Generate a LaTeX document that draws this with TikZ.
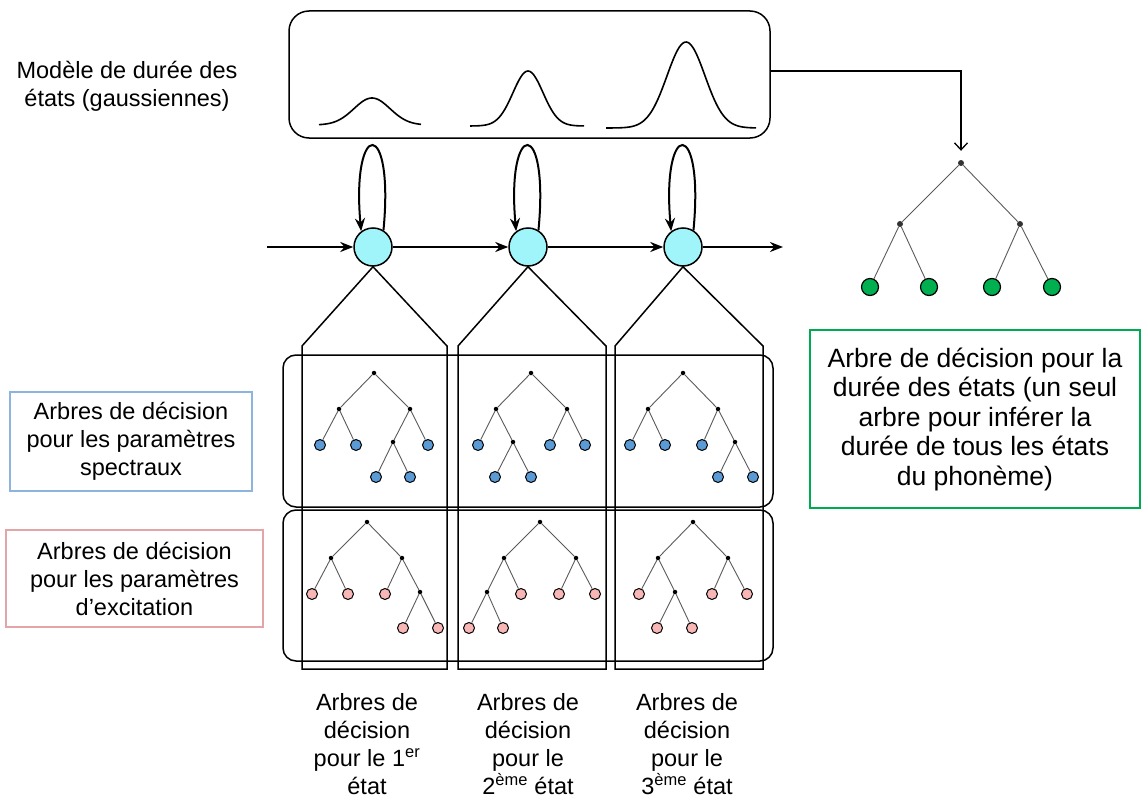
\documentclass[tikz,border=0pt]{standalone}
\usepackage{fontspec}
\setmainfont{Liberation Sans}
\usetikzlibrary{arrows.meta}
\definecolor{statefill}{RGB}{160,245,250}
\definecolor{leafblue}{RGB}{91,155,213}
\definecolor{leafpink}{RGB}{248,182,182}
\definecolor{leafgreen}{RGB}{0,176,80}
\definecolor{boxblue}{RGB}{140,180,220}
\definecolor{boxpink}{RGB}{228,165,168}
\definecolor{boxgreen}{RGB}{0,170,80}
\definecolor{edgegray}{RGB}{90,90,90}
\begin{document}
\begin{tikzpicture}[x=1pt,y=-1pt,
  every node/.style={font=\fontsize{23.5}{28}\selectfont},
  state/.style={circle,draw,line width=1.5pt,fill=statefill,minimum size=38pt,inner sep=0pt},
  flow/.style={line width=2pt,-{Stealth[length=13pt,width=10pt]}},
  idot/.style={circle,fill=black,minimum size=4.5pt,inner sep=0pt},
  gdot/.style={circle,fill=black!80,minimum size=6pt,inner sep=0pt},
  bleaf/.style={circle,draw,line width=1pt,fill=leafblue,minimum size=11pt,inner sep=0pt},
  pleaf/.style={circle,draw,line width=1pt,fill=leafpink,minimum size=11pt,inner sep=0pt},
  gleaf/.style={circle,draw,line width=1.2pt,fill=leafgreen,minimum size=17pt,inner sep=0pt},
  edge/.style={draw=edgegray,line width=0.9pt},
  frame/.style={line width=1.5pt},
  label/.style={align=center}
]
\useasboundingbox (0,0) rectangle (1148,800);

% duration model box with gaussians
\draw[frame,rounded corners=20pt] (289,11) rectangle (770,138);
\node[inner sep=0pt,minimum size=0pt] (dm) at (770,71) {};
\draw[line width=1.6pt,smooth] plot[domain=319:421,samples=60] (\x,{125-27*exp(-((\x-372)/18)^2/2)});
\draw[line width=1.6pt,smooth] plot[domain=470:584,samples=60] (\x,{126-55*exp(-((\x-528)/15)^2/2)});
\draw[line width=1.6pt,smooth] plot[domain=606:756,samples=70] (\x,{128-86*exp(-((\x-686)/19)^2/2)});
\node[label] (dmlabel) at (127,86) {Modèle de durée des\\états (gaussiennes)};

% HMM states
\node[state] (c1) at (373,247) {};
\node[state] (c2) at (528,247) {};
\node[state] (c3) at (683,247) {};
\coordinate (in) at (267,247);
\coordinate (out) at (783,247);
\draw[flow] (in) -- (c1);
\draw[flow] (c1) -- (c2);
\draw[flow] (c2) -- (c3);
\draw[flow] (c3) -- (out);
\foreach \c in {c1,c2,c3}{
  \draw[flow] (\c.58) .. controls ([shift={(11,-114)}]\c.58) and ([shift={(-10,-112)}]\c.127) .. (\c.127);
}

% funnels from each state to its trees
\draw[frame] (c1.south) -- (302,346) -- (302,669) -- (447,669) -- (447,346) -- cycle;
\draw[frame] (c2.south) -- (458,346) -- (458,669) -- (606,669) -- (606,346) -- cycle;
\draw[frame] (c3.south) -- (615,346) -- (615,669) -- (763,669) -- (763,346) -- cycle;

% groups of trees
\draw[frame,rounded corners=13pt] (283,355) rectangle (773,507);
\draw[frame,rounded corners=13pt] (283,510) rectangle (773,661);

% spectral trees
\node[idot] (s1r) at (374,373) {};
\node[idot] (s1a) at (339,409) {};
\node[idot] (s1b) at (410,409) {};
\node[idot] (s1c) at (393,442) {};
\node[bleaf] (s1l1) at (320,445) {};
\node[bleaf] (s1l2) at (356,445) {};
\node[bleaf] (s1l3) at (428,445) {};
\node[bleaf] (s1l4) at (376,477) {};
\node[bleaf] (s1l5) at (410,477) {};
\draw[edge] (s1a) -- (s1r) -- (s1b);
\draw[edge] (s1l1) -- (s1a) -- (s1l2);
\draw[edge] (s1c) -- (s1b) -- (s1l3);
\draw[edge] (s1l4) -- (s1c) -- (s1l5);

\node[idot] (s2r) at (531,373) {};
\node[idot] (s2a) at (496,409) {};
\node[idot] (s2b) at (567,409) {};
\node[idot] (s2c) at (513,442) {};
\node[bleaf] (s2l1) at (478,445) {};
\node[bleaf] (s2l2) at (495,477) {};
\node[bleaf] (s2l3) at (531,477) {};
\node[bleaf] (s2l4) at (550,445) {};
\node[bleaf] (s2l5) at (585,445) {};
\draw[edge] (s2a) -- (s2r) -- (s2b);
\draw[edge] (s2l1) -- (s2a) -- (s2c);
\draw[edge] (s2l2) -- (s2c) -- (s2l3);
\draw[edge] (s2l4) -- (s2b) -- (s2l5);

\node[idot] (s3r) at (683,373) {};
\node[idot] (s3a) at (648,409) {};
\node[idot] (s3b) at (718,409) {};
\node[idot] (s3c) at (735,442) {};
\node[bleaf] (s3l1) at (630,445) {};
\node[bleaf] (s3l2) at (665,445) {};
\node[bleaf] (s3l3) at (702,445) {};
\node[bleaf] (s3l4) at (718,477) {};
\node[bleaf] (s3l5) at (753,477) {};
\draw[edge] (s3a) -- (s3r) -- (s3b);
\draw[edge] (s3l1) -- (s3a) -- (s3l2);
\draw[edge] (s3l3) -- (s3b) -- (s3c);
\draw[edge] (s3l4) -- (s3c) -- (s3l5);

% excitation trees
\node[idot] (e1r) at (367,522) {};
\node[idot] (e1a) at (331,558) {};
\node[idot] (e1b) at (402,558) {};
\node[idot] (e1c) at (420,592) {};
\node[pleaf] (e1l1) at (312,594) {};
\node[pleaf] (e1l2) at (348,594) {};
\node[pleaf] (e1l3) at (385,594) {};
\node[pleaf] (e1l4) at (403,628) {};
\node[pleaf] (e1l5) at (438,628) {};
\draw[edge] (e1a) -- (e1r) -- (e1b);
\draw[edge] (e1l1) -- (e1a) -- (e1l2);
\draw[edge] (e1l3) -- (e1b) -- (e1c);
\draw[edge] (e1l4) -- (e1c) -- (e1l5);

\node[idot] (e2r) at (540,522) {};
\node[idot] (e2a) at (504,558) {};
\node[idot] (e2b) at (576,558) {};
\node[idot] (e2c) at (487,592) {};
\node[pleaf] (e2l1) at (521,594) {};
\node[pleaf] (e2l2) at (469,628) {};
\node[pleaf] (e2l3) at (503,628) {};
\node[pleaf] (e2l4) at (559,594) {};
\node[pleaf] (e2l5) at (595,594) {};
\draw[edge] (e2a) -- (e2r) -- (e2b);
\draw[edge] (e2c) -- (e2a) -- (e2l1);
\draw[edge] (e2l2) -- (e2c) -- (e2l3);
\draw[edge] (e2l4) -- (e2b) -- (e2l5);

\node[idot] (e3r) at (693,522) {};
\node[idot] (e3a) at (658,558) {};
\node[idot] (e3b) at (728,558) {};
\node[idot] (e3c) at (675,592) {};
\node[pleaf] (e3l1) at (639,594) {};
\node[pleaf] (e3l2) at (657,628) {};
\node[pleaf] (e3l3) at (692,628) {};
\node[pleaf] (e3l4) at (712,594) {};
\node[pleaf] (e3l5) at (747,594) {};
\draw[edge] (e3a) -- (e3r) -- (e3b);
\draw[edge] (e3l1) -- (e3a) -- (e3c);
\draw[edge] (e3l2) -- (e3c) -- (e3l3);
\draw[edge] (e3l4) -- (e3b) -- (e3l5);

% duration tree
\node[gdot] (gr) at (961,163) {};
\node[gdot] (ga) at (900,224) {};
\node[gdot] (gb) at (1020,224) {};
\node[gleaf] (gl1) at (870,287) {};
\node[gleaf] (gl2) at (929,287) {};
\node[gleaf] (gl3) at (992,287) {};
\node[gleaf] (gl4) at (1052,287) {};
\draw[edge] (ga) -- (gr) -- (gb);
\draw[edge] (gl1) -- (ga) -- (gl2);
\draw[edge] (gl3) -- (gb) -- (gl4);
\draw[line width=1.3pt,-{Straight Barb[length=7pt,width=13pt]},shorten >=9pt] (dm.center) -| (gr);

% legend boxes
\node[label,draw=boxblue,line width=2pt,minimum width=242pt,minimum height=99pt,inner sep=0pt] (blab) at (131,441)
  {Arbres de décision\\pour les paramètres\\spectraux};
\node[label,draw=boxpink,line width=2pt,minimum width=257pt,minimum height=97pt,inner sep=0pt] (plab) at (134.5,578.5)
  {Arbres de décision\\pour les paramètres\\d’excitation};
\node[label,draw=boxgreen,line width=2.5pt,minimum width=330pt,minimum height=178pt,inner sep=0pt,
  font=\fontsize{26.5}{29.5}\selectfont] (glab) at (975,419)
  {Arbre de décision pour la\\durée des états (un seul\\arbre pour inférer la\\durée de tous les états\\du phonème)};

% per-state captions
\node[label] (cap1) at (367,744) {Arbres de\\décision\\pour le 1\textsuperscript{er}\\état};
\node[label] (cap2) at (528,744) {Arbres de\\décision\\pour le\\2\textsuperscript{ème} état};
\node[label] (cap3) at (687,744) {Arbres de\\décision\\pour le\\3\textsuperscript{ème} état};
\end{tikzpicture}
\end{document}
